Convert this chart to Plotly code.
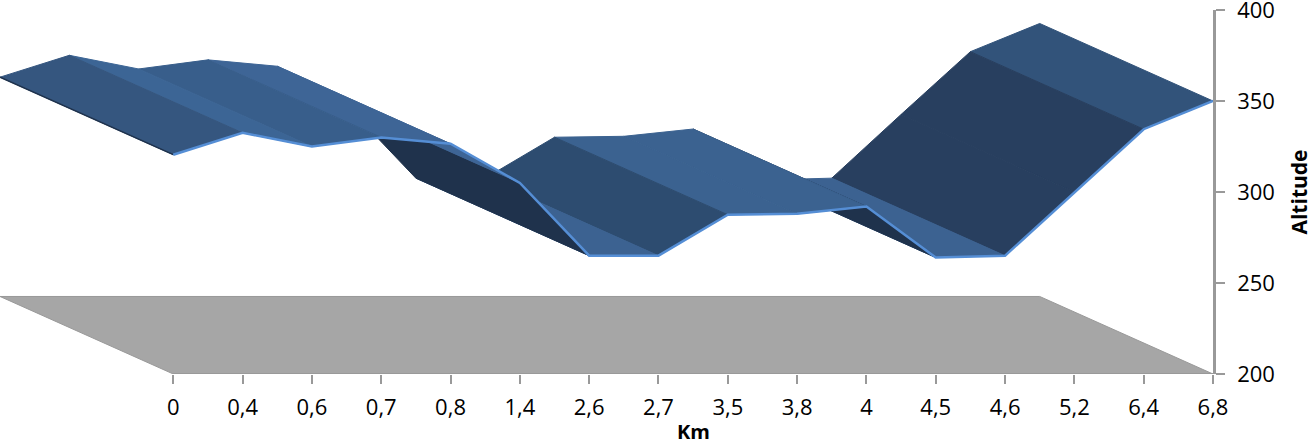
import plotly.graph_objects as go

# Data
km_labels = ["0", "0,4", "0,6", "0,7", "0,8", "1,4", "2,6", "2,7", "3,5", "3,8", "4", "4,5", "4,6", "5,2", "6,4", "6,8"]
altitude = [320.5, 332.5, 325, 330, 326.5, 305, 265, 265, 287.5, 288, 292, 264, 265, 300, 334.5, 350]
y_ticks = [200, 250, 300, 350, 400]

# Styles: shade of each ribbon segment (lit according to its slope)
segment_colors = ["#35567f", "#3c6595", "#385e8b", "#3e6596", "#3e6596", "#1f324c", "#3c6291",
                  "#2d4c70", "#3b6290", "#3b6290", "#1f324c", "#3c6291", "#283f5f", "#283f5f", "#32537a"]
FRONT_LINE = "#558ed5"
AXIS_GREY = "#999999"
FLOOR = "#a6a6a6"
FONT = "Open Sans"

# Oblique depth of the 3-D box, in axis units
DEPTH_X = -2.5
DEPTH_Y = 42.6
BASE = y_ticks[0]

idx = list(range(len(km_labels)))
fig = go.Figure()

# Floor
last = idx[-1]
fig.add_trace(go.Scatter(
    x=[0, last, last + DEPTH_X, DEPTH_X, 0],
    y=[BASE, BASE, BASE + DEPTH_Y, BASE + DEPTH_Y, BASE],
    mode="lines", fill="toself", fillcolor=FLOOR,
    line=dict(color=AXIS_GREY, width=1), hoverinfo="skip"))

# Ribbon, painted far to near (higher categories are further from the viewer)
for i in reversed(idx[:-1]):
    xs = [i, i + 1, i + 1 + DEPTH_X, i + DEPTH_X, i]
    ys = [altitude[i], altitude[i + 1], altitude[i + 1] + DEPTH_Y, altitude[i] + DEPTH_Y, altitude[i]]
    fig.add_trace(go.Scatter(
        x=xs, y=ys, mode="lines", fill="toself", fillcolor=segment_colors[i],
        line=dict(color=segment_colors[i], width=1), hoverinfo="skip"))

# Dark left side edge of the ribbon
fig.add_trace(go.Scatter(
    x=[0, DEPTH_X], y=[altitude[0], altitude[0] + DEPTH_Y], mode="lines",
    line=dict(color="#1f324c", width=1.5), hoverinfo="skip"))

# Front edge of the ribbon
fig.add_trace(go.Scatter(
    x=idx, y=altitude, mode="lines",
    line=dict(color=FRONT_LINE, width=2.5), hoverinfo="skip"))

# Category axis line
fig.add_trace(go.Scatter(
    x=[0, last], y=[BASE, BASE], mode="lines",
    line=dict(color=AXIS_GREY, width=2), hoverinfo="skip", cliponaxis=False))

fig.update_layout(
    width=1315, height=446, autosize=False,
    margin=dict(l=0, r=102, t=10, b=72),
    paper_bgcolor="white", plot_bgcolor="white",
    showlegend=False,
    font=dict(family=FONT, size=22, color="black"),
    xaxis=dict(range=[DEPTH_X, last], tickmode="array", tickvals=idx, ticktext=km_labels,
               ticks="outside", ticklen=9, tickwidth=2, tickcolor=AXIS_GREY,
               showgrid=False, zeroline=False, showline=False, tickfont=dict(size=22),
               ticklabelstandoff=5, automargin=False),
    yaxis=dict(range=[y_ticks[0], y_ticks[-1]], side="right", tickmode="array", tickvals=y_ticks,
               ticks="outside", ticklen=9, tickwidth=2, tickcolor=AXIS_GREY,
               showgrid=False, zeroline=False, showline=True, linecolor=AXIS_GREY, linewidth=2.5,
               tickfont=dict(size=22), ticklabelstandoff=8, ticklabeloverflow="allow", automargin=False,
               title=dict(text="<b>Altitude</b>", font=dict(size=21), standoff=19)),
    annotations=[dict(text="<b>Km</b>", x=7.5, xref="x", y=-0.159, yref="paper", yanchor="middle",
                      showarrow=False, font=dict(size=20))],
)

fig.write_html("out.html", post_script="document.body.style.margin='0';",
               config={"displayModeBar": False})
